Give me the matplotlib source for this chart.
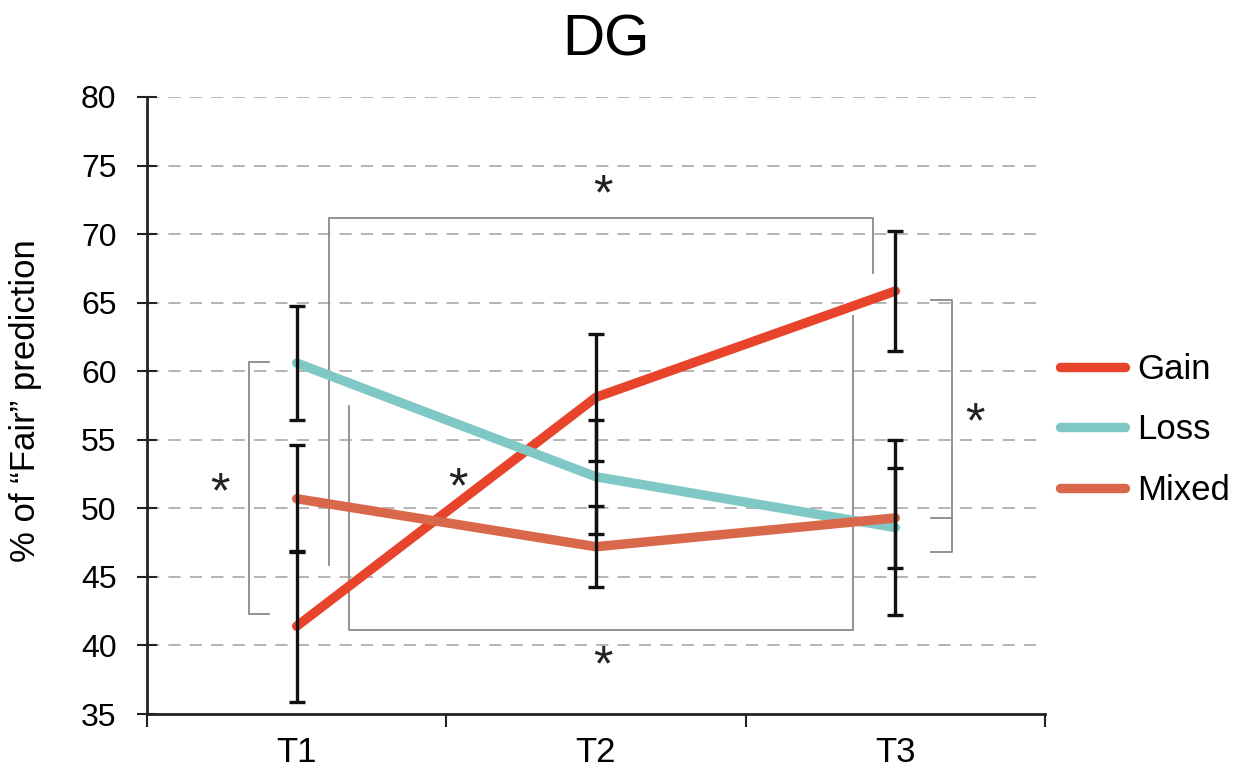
import matplotlib
matplotlib.use("Agg")
import matplotlib.pyplot as plt

plt.rcParams['font.family'] = ['Liberation Sans', 'DejaVu Sans']

# data
times = ["T1", "T2", "T3"]
gain = [41.4, 58.1, 65.85]
gain_err = [5.5, 4.65, 4.4]
loss = [60.6, 52.3, 48.6]
loss_err = [4.15, 4.15, 6.4]
mixed = [50.7, 47.2, 49.3]
mixed_err = [3.9, 2.95, 3.65]

series = [
    ("Gain", gain, gain_err, "#e8442c"),
    ("Loss", loss, loss_err, "#7fc8c5"),
    ("Mixed", mixed, mixed_err, "#d9674a"),
]

fig = plt.figure(figsize=(12.43, 7.73), dpi=100)
ax = fig.add_axes([147 / 1243, 1 - 714 / 773, 898 / 1243, 617 / 773])

x = [1, 2, 3]
for name, vals, err, color in series:
    ax.plot(x, vals, color=color, lw=6.8, solid_capstyle="round",
            solid_joinstyle="round", label=name, zorder=3)
    ax.errorbar(x, vals, yerr=err, fmt="none", ecolor="#111111",
                elinewidth=2.4, capsize=6, capthick=2.4, zorder=4)

# significance brackets
br = dict(color="#8a8a8a", lw=1.3, zorder=2)
ax.plot([0.908, 0.841, 0.841, 0.908], [60.7, 60.7, 42.3, 42.3], **br)
ax.plot([1.108, 1.108, 2.926, 2.926], [45.9, 71.2, 71.2, 67.2], **br)
ax.plot([1.175, 1.175, 2.859, 2.859], [57.5, 41.1, 41.1, 64.0], **br)
ax.plot([3.119, 3.19, 3.19, 3.119], [65.2, 65.2, 46.8, 46.8], **br)
ax.plot([3.119, 3.19], [49.3, 49.3], **br)

star = dict(fontsize=36, ha="center", va="center", color="#222222")
for sx, sy in [(0.744, 51.0), (1.539, 51.35), (2.024, 72.75), (2.024, 38.4), (3.266, 56.1)]:
    ax.text(sx, sy, "*", **star)

ax.set_xlim(0.5, 3.5)
ax.set_ylim(35, 80)
ax.set_yticks(range(35, 81, 5))
ax.set_xticks(x)
ax.set_xticklabels(times, fontsize=25)
ax.set_xticks([0.5, 1.5, 2.5, 3.5], minor=True)
ax.tick_params(axis="x", which="major", length=0, pad=16)
ax.tick_params(axis="x", which="minor", length=9, width=1.5, direction="out", color="#222222")
ax.tick_params(axis="y", length=14, width=1.5, direction="inout", pad=15,
               labelsize=23, color="#222222")

for v in range(40, 81, 5):
    ax.axhline(v, color="#a0a0a0", lw=1.1, ls=(0, (8, 6)), zorder=1)

for s in ["top", "right"]:
    ax.spines[s].set_visible(False)
for s in ["left", "bottom"]:
    ax.spines[s].set_linewidth(2)
    ax.spines[s].set_color("#222222")

fig.text(606 / 1243, 1 - 40 / 773, "DG", ha="center", va="center", fontsize=42)
fig.text(26 / 1243, 1 - 401 / 773, "% of \u201cFair\u201d prediction", rotation=90,
         ha="center", va="center", fontsize=25)

ax.legend(loc="center left", bbox_to_anchor=(1060 / 1243, 1 - 430 / 773),
          bbox_transform=fig.transFigure, frameon=False, fontsize=25,
          handlelength=1.87, handletextpad=0.35, labelspacing=0.8,
          borderpad=0, borderaxespad=0)

fig.savefig("out.png", dpi=100)
